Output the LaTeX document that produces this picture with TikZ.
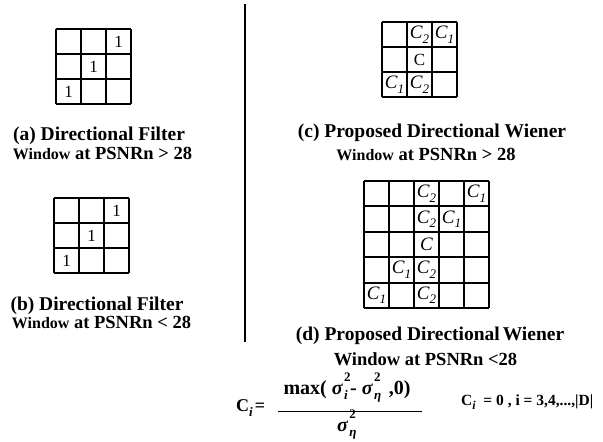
\documentclass[tikz,border=0pt]{standalone}
\usepackage{fontspec}
\setmainfont{Liberation Serif}
\newcommand\Cs[1]{\textit{C}\kern-0.3pt\raisebox{-0.25em}{\fontsize{13}{13}\selectfont\textit{#1}}}
\newcommand\mysig[1]{\textbf{\textit{σ}}\kern1pt\rlap{\raisebox{0.62em}{\fontsize{13}{13}\selectfont\bfseries 2}}\raisebox{-0.25em}{\fontsize{13}{13}\selectfont\bfseries\itshape #1}\kern2.5pt}
\newcommand\winA{{\fontsize{16}{16}\selectfont Window}}
\begin{document}
\begin{tikzpicture}[x=1pt,y=-1pt,
  gridline/.style={line width=2pt},
  cell/.style={font=\fontsize{19}{19}\selectfont, inner sep=0pt},
  one/.style={font=\fontsize{17}{17}\selectfont, inner sep=0pt},
  capA/.style={font=\fontsize{19.5}{19.5}\selectfont\bfseries, inner sep=0pt, anchor=base},
  capB/.style={font=\fontsize{18.5}{18.5}\selectfont\bfseries, inner sep=0pt, anchor=base}]
\useasboundingbox (0,0) rectangle (603,442);
% (a) grid
\foreach \i in {0,...,3} {
  \draw[gridline] (56+25*\i,29) -- (56+25*\i,104);
  \draw[gridline] (56,29+25*\i) -- (131,29+25*\i);
}
\node[one] (a13) at (118.5,41.5) {1};
\node[one] (a22) at (93.5,66.5) {1};
\node[one] (a31) at (68.5,91.5) {1};
\node[capA] (capa1) at (99,140) {(a) Directional Filter};
\node[capB] (capa2) at (102.5,159) {\winA{} at PSNRn > 28};
% (b) grid
\foreach \i in {0,...,3} {
  \draw[gridline] (54+25*\i,198) -- (54+25*\i,273);
  \draw[gridline] (54,198+25*\i) -- (129,198+25*\i);
}
\node[one] (b13) at (116.5,210.5) {1};
\node[one] (b22) at (91.5,235.5) {1};
\node[one] (b31) at (66.5,260.5) {1};
\node[capA] (capb1) at (97,310) {(b) Directional Filter};
\node[capB] (capb2) at (101.5,328) {\winA{} at PSNRn < 28};
% divider
\draw[line width=2pt] (245,4) -- (245,342);
% (c) grid
\foreach \i in {0,...,3} {
  \draw[gridline] (382+25*\i,22) -- (382+25*\i,97);
  \draw[gridline] (382,22+25*\i) -- (457,22+25*\i);
}
\node[cell] (c12) at (419.5,34.5) {\Cs{2}};
\node[cell] (c13) at (444.5,34.5) {\Cs{1}};
\node[one] (c22) at (419.5,59.5) {C};
\node[cell] (c31) at (394.5,84.5) {\Cs{1}};
\node[cell] (c32) at (419.5,84.5) {\Cs{2}};
\node[capA] (capc1) at (432,137) {(c) Proposed Directional Wiener};
\node[capB] (capc2) at (426,160) {\winA{} at PSNRn > 28};
% (d) grid
\foreach \i in {0,...,5} {
  \draw[gridline] (364+25*\i,181) -- (364+25*\i,308);
  \draw[gridline] (364,181+25.4*\i) -- (489,181+25.4*\i);
}
\node[cell] (d13) at (426.5,193.7) {\Cs{2}};
\node[cell] (d15) at (476.5,193.7) {\Cs{1}};
\node[cell] (d23) at (426.5,219.1) {\Cs{2}};
\node[cell] (d24) at (451.5,219.1) {\Cs{1}};
\node[cell] (d33) at (426.5,244.5) {\textit{C}};
\node[cell] (d42) at (401.5,269.9) {\Cs{1}};
\node[cell] (d43) at (426.5,269.9) {\Cs{2}};
\node[cell] (d51) at (376.5,295.3) {\Cs{1}};
\node[cell] (d53) at (426.5,295.3) {\Cs{2}};
\node[capA] (capd1) at (430,340) {(d) Proposed Directional\kern-2pt\ Wiener};
\node[capB] (capd2) at (425.5,365) {Window at PSNRn <28};
% formula
\node[font=\fontsize{18}{18}\selectfont\bfseries, inner sep=0pt, anchor=base west] (lhs) at (236,411)
  {C\raisebox{-0.3em}{\fontsize{13}{13}\selectfont\itshape i}\kern2pt=};
\node[font=\fontsize{20}{20}\selectfont\bfseries, inner sep=0pt, anchor=base] (num) at (347,394)
  {max( \mysig{i}-\ \mysig{η}\ ,0)};
\coordinate (barL) at (278,411.5);
\coordinate (barR) at (422,411.5);
\draw[line width=1.5pt] (barL) -- (barR);
\node[font=\fontsize{20}{20}\selectfont\bfseries, inner sep=0pt, anchor=base] (den) at (348,431)
  {\mysig{η}};
\node[font=\fontsize{15.5}{15.5}\selectfont\bfseries, inner sep=0pt, anchor=base west] (rhs) at (461,405)
  {C\raisebox{-0.3em}{\fontsize{12}{12}\selectfont\itshape i}\ \ = 0 , i = 3,4,...,|D|};
\end{tikzpicture}
\end{document}
